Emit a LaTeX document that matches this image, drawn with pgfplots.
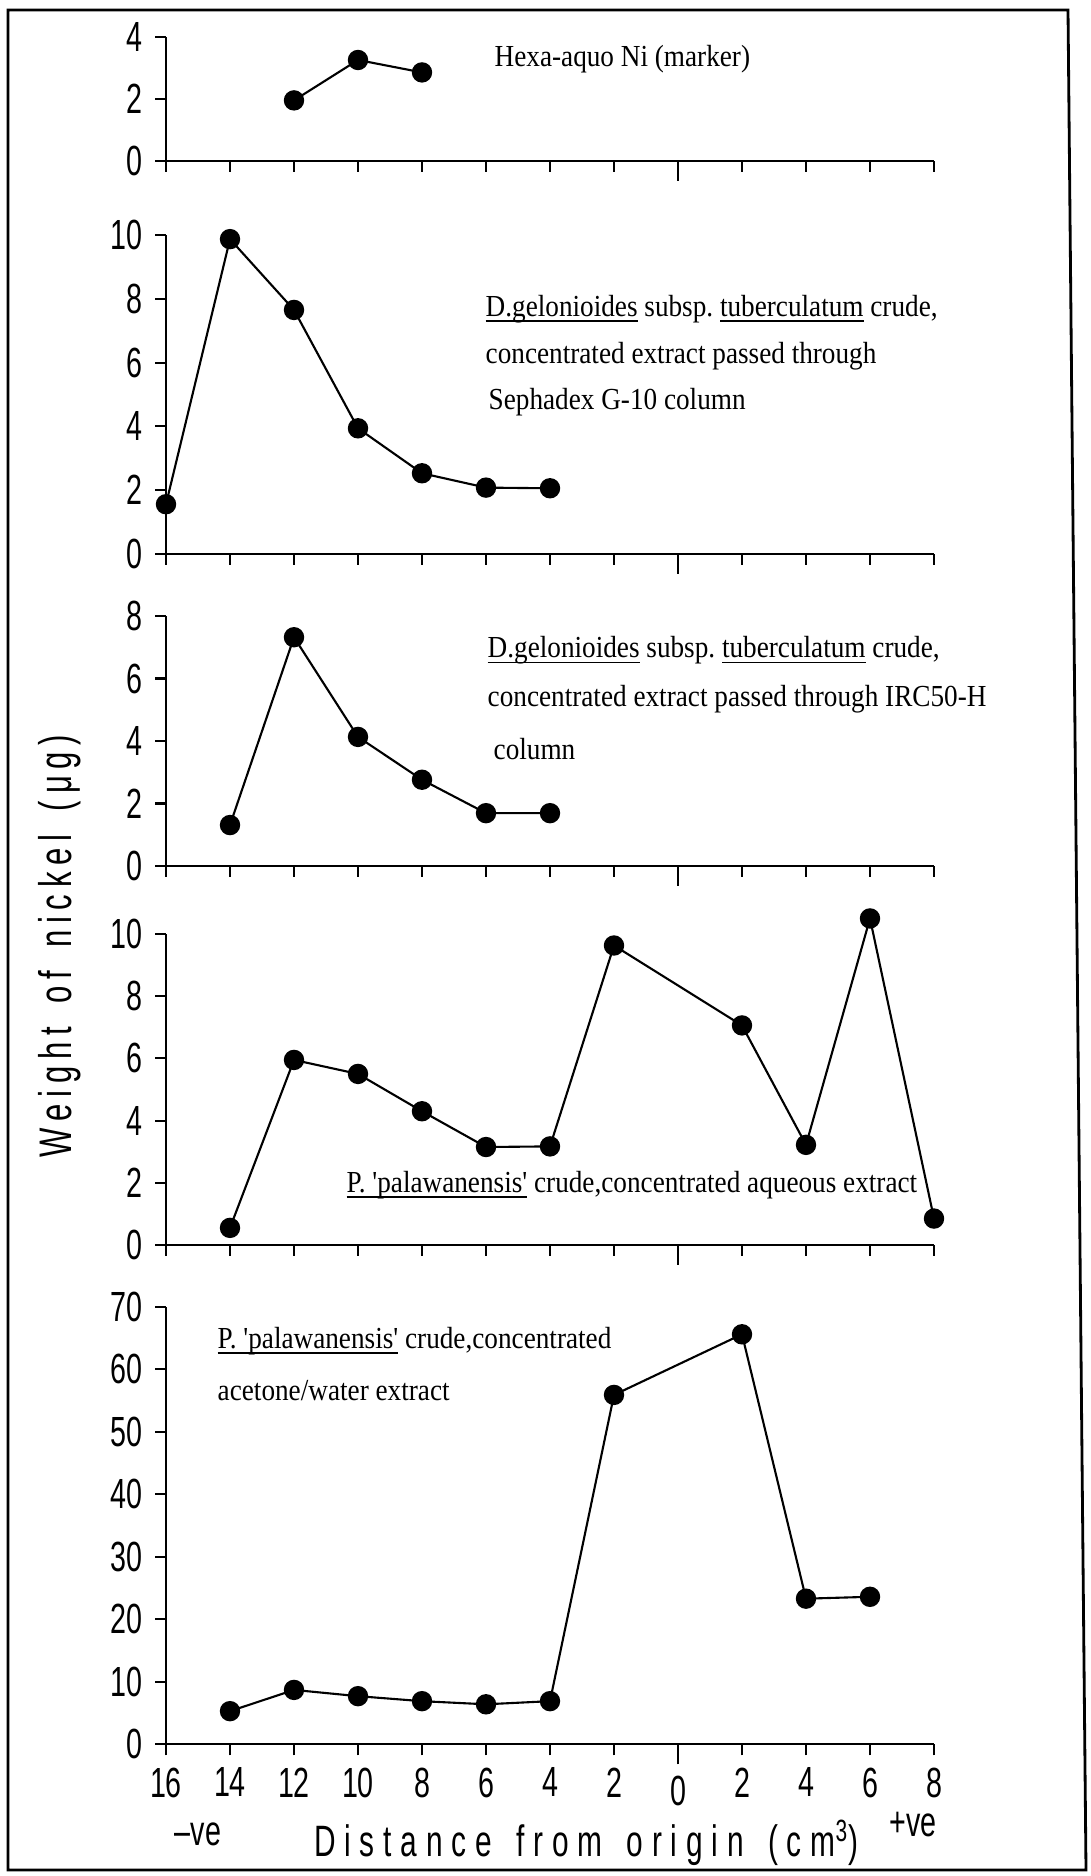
\documentclass[border=0pt]{standalone}
\usepackage{pgfplots}
\pgfplotsset{compat=1.18}
\usepackage{fontspec}
\setmainfont{Liberation Serif}
\newfontfamily\tnr[FakeStretch=0.89]{Liberation Serif}
\newfontfamily\din[FakeStretch=0.68]{Liberation Sans}
\newfontfamily\dinsp[FakeStretch=0.68,LetterSpace=15]{Liberation Sans}
\newfontfamily\dinsx[FakeStretch=0.68,LetterSpace=20]{Liberation Sans}
\newcommand{\ul}[1]{\underline{\smash{#1}}}
\frenchspacing
\begin{document}
\begin{tikzpicture}
\useasboundingbox (0,0) rectangle (109.1mm,187.6mm);
\pgfplotsset{
  panel/.style={
    scale only axis, width=76.8mm, xmin=-16, xmax=8, enlargelimits=false,
    axis x line=bottom, axis y line=left, axis line style={-, line width=0.6pt},
    tick align=outside, major tick length=1.1mm, tick style={line width=0.6pt, black},
    xtick={-16,-14,...,8}, xticklabels={},
    extra x ticks={0}, extra x tick labels={}, extra x tick style={major tick length=2mm},
    clip=false, anchor=south west,
    yticklabel style={font=\din\fontsize{12}{12}\selectfont},
    xticklabel style={font=\din\fontsize{12}{12}\selectfont},
  },
  dat/.style={black, line width=0.6pt, mark=*, mark size=2.6pt, mark options={solid, fill=black, draw=black}},
}
\draw[line width=0.8pt] (0.8mm,0.6mm) -- (0.8mm,186.6mm) -- (106.8mm,186.6mm) -- (108.6mm,0.6mm) -- cycle;

% Panel 1
\begin{axis}[panel, at={(16.6mm,171.5mm)}, height=12.43mm, ymin=0, ymax=4,
  ytick={0,2,4}, yticklabels={0,2,4}]
\addplot[dat] coordinates {(-12,1.95) (-10,3.25) (-8,2.85)};
\end{axis}

% Panel 2
\begin{axis}[panel, at={(16.6mm,132.2mm)}, height=31.9mm, ymin=0, ymax=10,
  ytick={0,2,...,10}, yticklabels={0,2,4,6,8,10}]
\addplot[dat] coordinates {(-16,1.56) (-14,9.87) (-12,7.65) (-10,3.94) (-8,2.53) (-6,2.08) (-4,2.06)};
\end{axis}

% Panel 3
\begin{axis}[panel, at={(16.6mm,101.0mm)}, height=25.0mm, ymin=0, ymax=8,
  ytick={0,2,...,8}, yticklabels={0,2,4,6,8}]
\addplot[dat] coordinates {(-14,1.31) (-12,7.32) (-10,4.13) (-8,2.76) (-6,1.69) (-4,1.69)};
\end{axis}

% Panel 4
\begin{axis}[panel, at={(16.6mm,63.1mm)}, height=31.1mm, ymin=0, ymax=10,
  ytick={0,2,...,10}, yticklabels={0,2,4,6,8,10}]
\addplot[dat] coordinates {(-14,0.55) (-12,5.95) (-10,5.50) (-8,4.30) (-6,3.15) (-4,3.17) (-2,9.63) (2,7.06) (4,3.22) (6,10.5) (8,0.85)};
\end{axis}

% Panel 5
\begin{axis}[panel, at={(16.6mm,13.17mm)}, height=43.75mm, ymin=0, ymax=70,
  ytick={0,10,...,70}, yticklabels={0,10,20,30,40,50,60,70},
  xticklabels={16,14,12,10,8,6,4,2,\raisebox{-0.8mm}[\height][0pt]{0},2,4,6,8}]
\addplot[dat] coordinates {(-14,5.3) (-12,8.7) (-10,7.7) (-8,6.9) (-6,6.4) (-4,6.9) (-2,55.9) (2,65.6) (4,23.3) (6,23.6)};
\end{axis}

\begin{scope}[every node/.style={anchor=west, inner sep=0pt, font=\tnr\fontsize{8.7}{10}\selectfont}]
\node at (49.4mm,181.7mm) {Hexa-aquo Ni (marker)};
\node at (48.5mm,156.7mm) {\ul{D.gelonioides} subsp. \ul{tuberculatum} crude,};
\node at (48.5mm,152.0mm) {concentrated extract passed through};
\node at (48.8mm,147.35mm) {Sephadex G-10 column};
\node at (48.7mm,122.53mm) {\ul{D.gelonioides} subsp. \ul{tuberculatum} crude,};
\node at (48.7mm,117.7mm) {concentrated extract passed through IRC50-H};
\node at (49.3mm,112.7mm) {column};
\node at (34.6mm,69.1mm) {\ul{P. 'palawanensis'} crude,concentrated aqueous extract};
\node at (21.7mm,53.5mm) {\ul{P. 'palawanensis'} crude,concentrated};
\node at (21.7mm,48.5mm) {acetone/water extract};
\end{scope}

\node[rotate=90, font=\dinsp\fontsize{13}{13}\selectfont] at (6.0mm,93.0mm) {Weight\, of\, nickel\, (μg)};
\node[font=\dinsx\fontsize{12.5}{12.5}\selectfont] at (58.65mm,3.3mm) {Distance\, from\, origin\, (cm\textsuperscript{3})};
\node[font=\din\fontsize{12}{12}\selectfont] at (19.8mm,4.2mm) {–ve};
\node[font=\din\fontsize{12}{12}\selectfont] at (91.3mm,5.1mm) {+ve};
\end{tikzpicture}
\end{document}
